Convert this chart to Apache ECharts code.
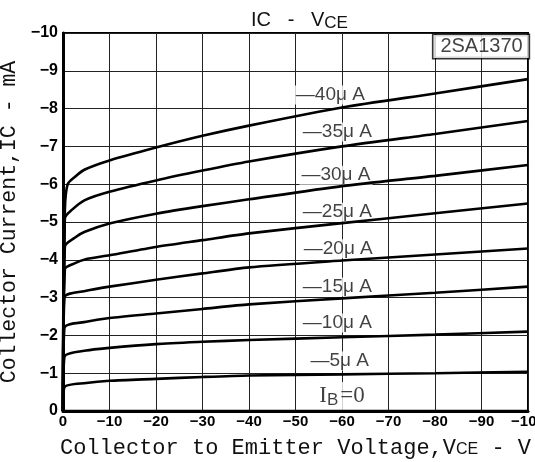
<!DOCTYPE html>
<html>
<head>
    <meta charset="utf-8">
    <title>2SA1370 IC - VCE</title>
    <style>
        html, body { margin: 0; padding: 0; background: #fff; }
        #chartBox { width: 535px; height: 462px; }
    </style>
</head>
<body>
    <div id="chartBox"></div>
    <script src="https://cdn.jsdelivr.net/npm/echarts@6/dist/echarts.min.js"></script>
    <script>
// 坐标轴刻度
var vceTicks = [0, -10, -20, -30, -40, -50, -60, -70, -80, -90, -100];
var icTicks = [0, -1, -2, -3, -4, -5, -6, -7, -8, -9, -10];

// 各基极电流下的曲线 [VCE(V), IC(mA)]
var ib40 = [[0, 0], [-0.4, -5.3], [-1, -6.0], [-2.6, -6.2], [-4.7, -6.39], [-10, -6.63], [-20, -6.97], [-30, -7.28], [-40, -7.55], [-60, -8.03], [-80, -8.4], [-100, -8.78]];
var ib35 = [[0, 0], [-0.4, -5.1], [-1.9, -5.32], [-4.7, -5.58], [-10, -5.8], [-20, -6.1], [-30, -6.36], [-40, -6.6], [-60, -7.0], [-80, -7.33], [-100, -7.67]];
var ib30 = [[0, 0], [-0.4, -4.35], [-2.6, -4.59], [-4.7, -4.74], [-10, -4.96], [-20, -5.22], [-30, -5.42], [-40, -5.6], [-60, -5.95], [-80, -6.22], [-100, -6.51]];
var ib25 = [[0, 0], [-0.4, -3.75], [-2.6, -3.91], [-4.7, -4.01], [-10, -4.12], [-20, -4.34], [-30, -4.52], [-40, -4.7], [-60, -4.97], [-80, -5.23], [-100, -5.49]];
var ib20 = [[0, 0], [-0.3, -3.0], [-5, -3.18], [-10, -3.29], [-20, -3.47], [-30, -3.64], [-40, -3.8], [-60, -3.98], [-80, -4.14], [-100, -4.3]];
var ib15 = [[0, 0], [-0.3, -2.2], [-5, -2.36], [-10, -2.46], [-20, -2.58], [-30, -2.7], [-40, -2.82], [-60, -2.98], [-80, -3.13], [-100, -3.29]];
var ib10 = [[0, 0], [-0.3, -1.43], [-5, -1.6], [-10, -1.67], [-20, -1.77], [-30, -1.83], [-40, -1.88], [-60, -1.95], [-80, -2.02], [-100, -2.1]];
var ib5 = [[0, 0], [-0.3, -0.63], [-5, -0.74], [-10, -0.8], [-20, -0.85], [-30, -0.9], [-40, -0.94], [-60, -0.97], [-80, -1.0], [-100, -1.04]];
var ib0 = [[0, 0], [-100, 0]];

// 曲线标注 [VCE, IC, 文本]
var curveLabels = [
    [-57.5, -8.36, '—40μ A'],
    [-59, -7.38, '—35μ A'],
    [-58.7, -6.24, '—30μ A'],
    [-59, -5.26, '—25μ A'],
    [-59.2, -4.29, '—20μ A'],
    [-59, -3.28, '—15μ A'],
    [-59, -2.33, '—10μ A'],
    [-59.5, -1.32, '—5μ A']
];
var ib0Label = [[-60, -0.4, 'IB=0']];
var partLabel = [[-89.9, -9.64, '2SA1370']];

var curves = [ib40, ib35, ib30, ib25, ib20, ib15, ib10, ib5, ib0];

var chart = echarts.init(document.getElementById('chartBox'));

var series = curves.map(function (d) {
    return {
        type: 'line',
        data: d,
        smooth: 0.25,
        showSymbol: false,
        symbol: 'none',
        z: 3,
        lineStyle: { color: '#000', width: 2.6 }
    };
});

series.push({
    type: 'scatter',
    data: curveLabels,
    symbolSize: 0,
    z: 2,
    label: {
        show: true,
        position: 'inside',
        formatter: function (p) { return p.value[2]; },
        color: '#111',
        fontFamily: 'Liberation Sans',
        fontSize: 19,
        backgroundColor: '#fff',
        padding: [0, 2]
    }
});

series.push({
    type: 'scatter',
    data: ib0Label,
    symbolSize: 0,
    z: 2,
    label: {
        show: true,
        position: 'inside',
        formatter: '{a|I}{s|B}{a|=0}',
        backgroundColor: '#fff',
        padding: [1, 3],
        rich: {
            a: { fontFamily: 'Liberation Serif', fontSize: 23, color: '#111' },
            s: { fontFamily: 'Liberation Sans', fontSize: 17, color: '#111', padding: [9, 2, 0, 0] }
        }
    }
});

series.push({
    type: 'scatter',
    data: partLabel,
    symbolSize: 0,
    z: 4,
    label: {
        show: true,
        position: 'inside',
        formatter: function (p) { return p.value[2]; },
        color: '#111',
        fontFamily: 'Liberation Sans',
        fontSize: 20,
        backgroundColor: '#fff',
        borderColor: '#000',
        borderWidth: 1.5,
        padding: [2, 6, 1, 7]
    }
});

function minusFmt(v) {
    return v === 0 ? '0' : '−' + Math.abs(v);
}

var option = {
    backgroundColor: '#fff',
    animation: false,
    title: {
        text: '{a|IC   -   V}{s|CE}',
        left: 246,
        top: 4,
        textStyle: {
            fontWeight: 'normal',
            rich: {
                a: { fontFamily: 'Liberation Sans', fontSize: 20, fontWeight: 'normal', color: '#111' },
                s: { fontFamily: 'Liberation Sans', fontSize: 17, fontWeight: 'normal', color: '#111', padding: [6, 0, 0, 0] }
            }
        }
    },
    grid: {
        left: 63, right: 7, top: 33, bottom: 51,
        outerBoundsMode: 'none',
        containLabel: false,
        show: true,
        borderColor: '#000',
        borderWidth: 2
    },
    xAxis: {
        type: 'value',
        min: -100, max: 0, interval: 10,
        inverse: true,
        name: '{a|Collector to Emitter Voltage,V}{s|CE}{a| - V}',
        nameLocation: 'middle',
        nameGap: 26,
        nameTextStyle: {
            rich: {
                a: { fontFamily: 'Liberation Mono', fontSize: 22, color: '#111' },
                s: { fontFamily: 'Liberation Sans', fontSize: 16, color: '#111', padding: [4, 0, 0, 0] }
            }
        },
        axisLine: { onZero: false, lineStyle: { color: '#000', width: 3 } },
        axisTick: { show: false },
        axisLabel: {
            color: '#000', fontSize: 15, fontWeight: 'bold', fontFamily: 'Liberation Sans', margin: 3,
            formatter: function (v) { return vceTicks.indexOf(v) >= 0 ? minusFmt(v) : ''; }
        },
        splitLine: { show: true, lineStyle: { color: '#222', width: 1 } }
    },
    yAxis: {
        type: 'value',
        min: -10, max: 0, interval: 1,
        inverse: true,
        name: 'Collector Current,IC - mA',
        nameLocation: 'middle',
        nameGap: 32,
        nameTextStyle: { fontFamily: 'Liberation Mono', fontSize: 21.5, color: '#111' },
        axisLine: { onZero: false, lineStyle: { color: '#000', width: 3 } },
        axisTick: { show: false },
        axisLabel: {
            color: '#000', fontSize: 16, fontWeight: 'bold', fontFamily: 'Liberation Sans', margin: 5,
            formatter: function (v) { return icTicks.indexOf(v) >= 0 ? minusFmt(v) : ''; }
        },
        splitLine: { show: true, lineStyle: { color: '#222', width: 1 } }
    },
    series: series
};

chart.setOption(option);
    </script>
</body>
</html>
